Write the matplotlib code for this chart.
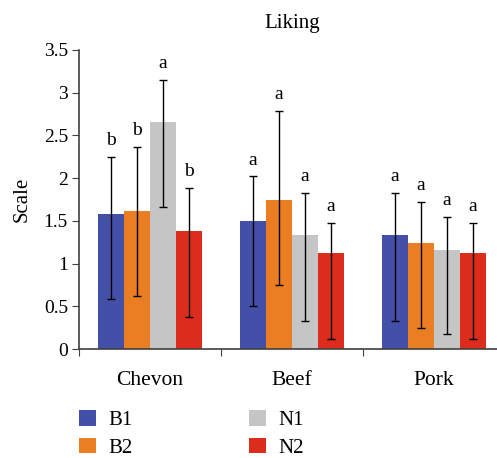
import matplotlib
matplotlib.use("Agg")
import matplotlib.pyplot as plt
import numpy as np

# data
groups = ["Chevon", "Beef", "Pork"]
series = ["B1", "B2", "N1", "N2"]
colors = ["#4450A8", "#EB7D23", "#C4C5C4", "#DC2C1C"]

means = {
    "B1": [1.58, 1.50, 1.33],
    "B2": [1.62, 1.75, 1.245],
    "N1": [2.66, 1.33, 1.16],
    "N2": [1.38, 1.12, 1.12],
}
err_hi = {
    "B1": [2.25, 2.02, 1.83],
    "B2": [2.37, 2.79, 1.72],
    "N1": [3.15, 1.83, 1.55],
    "N2": [1.885, 1.48, 1.48],
}
err_lo = {
    "B1": [0.585, 0.50, 0.33],
    "B2": [0.62, 0.75, 0.245],
    "N1": [1.66, 0.33, 0.17],
    "N2": [0.375, 0.12, 0.12],
}
letters = {
    "B1": ["b", "a", "a"],
    "B2": ["b", "a", "a"],
    "N1": ["a", "a", "a"],
    "N2": ["b", "a", "a"],
}

plt.rcParams["font.family"] = ["Liberation Serif", "DejaVu Serif"]
axcol = "#404040"

fig = plt.figure(figsize=(4.97, 4.58), dpi=100)
# axes runs past the right edge, like the cropped original
ax = fig.add_axes([79 / 497, 1 - 349 / 458, 426 / 497, 299 / 458])

centers = np.arange(len(groups)) + 0.5
bw = 26 / 142
for i, s in enumerate(series):
    x = centers + (i - 1.5) * bw
    m = np.array(means[s])
    hi = np.array(err_hi[s])
    lo = np.array(err_lo[s])
    ax.bar(x, m, width=bw, color=colors[i], label=s, zorder=2)
    ax.errorbar(x, m, yerr=[m - lo, hi - m], fmt="none", ecolor="black",
                elinewidth=1.0, capsize=3, capthick=1.0, zorder=3)
    for xx, h, t in zip(x, hi, letters[s]):
        ax.text(xx, h + 0.09, t, ha="center", va="bottom", fontsize=14)

ax.set_xlim(0, 3)
ax.set_ylim(0, 3.5)
ax.set_yticks(np.arange(0, 3.51, 0.5))
ax.set_yticklabels(["0", "0.5", "1", "1.5", "2", "2.5", "3", "3.5"])
ax.set_xticks([0, 1, 2, 3])
ax.set_xticklabels([])
ax.set_xticks(centers, minor=True)
ax.set_xticklabels(groups, minor=True)
ax.tick_params(axis="x", which="minor", length=0, pad=16, labelsize=15.5)
ax.tick_params(axis="x", which="major", length=5, color=axcol, direction="out")
ax.tick_params(axis="y", length=5, color=axcol, labelsize=14, pad=3)

for side in ["top", "right"]:
    ax.spines[side].set_visible(False)
for side in ["left", "bottom"]:
    ax.spines[side].set_color(axcol)
    ax.spines[side].set_linewidth(1.2)

ax.set_ylabel("Scale", fontsize=15, labelpad=9)
ax.set_title("Liking", fontsize=15, pad=16)

handles, labels = ax.get_legend_handles_labels()
fig.legend(handles, labels, ncol=2, loc="upper left",
           bbox_to_anchor=(79 / 497, 1 - 410 / 458), frameon=False,
           fontsize=15, handlelength=0.8, handleheight=0.8,
           borderpad=0, borderaxespad=0,
           columnspacing=5.6, labelspacing=0.35, handletextpad=0.6)

fig.savefig("out.png", dpi=100)
